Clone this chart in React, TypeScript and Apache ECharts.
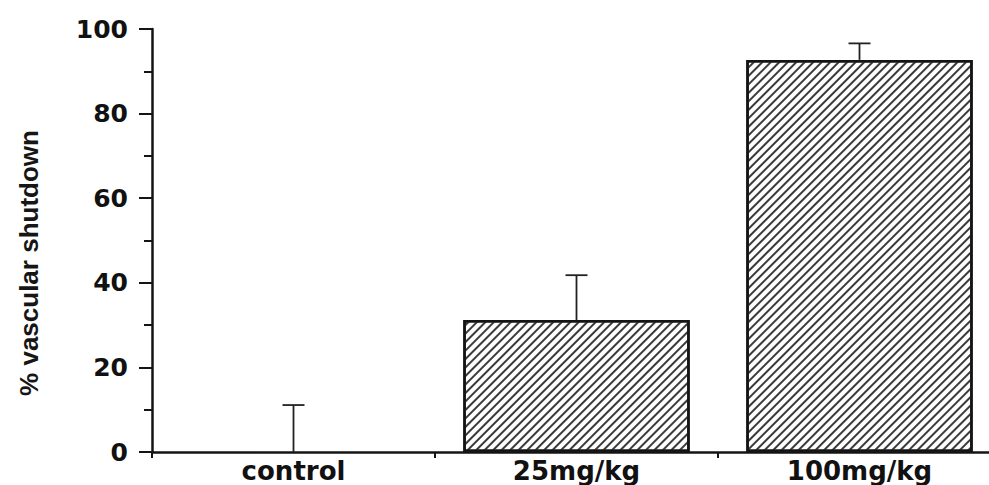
import React, { useEffect, useRef } from "react";
import * as echarts from "echarts";

const categories = ["control", "25mg/kg", "100mg/kg"];
const means = [0, 31.2, 92.7];
const upperErr = [11.1, 41.8, 96.6];
const yTicks = [0, 20, 40, 60, 80, 100];
const yTitle = "% vascular shutdown";

export default function App() {
  const ref = useRef<HTMLDivElement>(null);
  useEffect(() => {
    document.body.style.margin = "0";
    const chart = echarts.init(ref.current!, null, { renderer: "svg" });
    const ink = "#141414";
    const errData = categories.map((_, i) => [i, means[i], upperErr[i]]);
    const barData = means.map((v) =>
      v === 0 ? { value: v, itemStyle: { borderWidth: 0 } } : v
    );
    chart.setOption({
      animation: false,
      backgroundColor: "#ffffff",
      grid: { left: 152, right: 0, top: 29, bottom: 33, containLabel: false },
      xAxis: {
        type: "category",
        data: categories,
        axisLine: { lineStyle: { color: ink, width: 2.5 } },
        axisTick: { show: true, length: 6, lineStyle: { color: ink, width: 2 } },
        axisLabel: {
          color: "#111",
          fontFamily: "DejaVu Sans",
          fontWeight: "bold",
          fontSize: 26,
          margin: 6,
        },
        splitLine: { show: false },
      },
      yAxis: {
        type: "value",
        min: yTicks[0],
        max: yTicks[yTicks.length - 1],
        interval: 20,
        axisLine: { show: true, lineStyle: { color: ink, width: 2.5 } },
        axisTick: { show: true, length: 13, lineStyle: { color: ink, width: 2 } },
        minorTick: { show: true, splitNumber: 2, length: 8, lineStyle: { color: ink, width: 2 } },
        axisLabel: {
          color: "#111",
          fontFamily: "DejaVu Sans",
          fontWeight: "bold",
          fontSize: 25,
          margin: 24,
        },
        splitLine: { show: false },
        minorSplitLine: { show: false },
      },
      graphic: [
        {
          type: "text",
          x: 29,
          y: 263,
          rotation: Math.PI / 2,
          style: {
            text: yTitle,
            font: "bold 26px 'Liberation Sans', Arial, sans-serif",
            fill: "#161616",
            align: "center",
            verticalAlign: "middle",
          },
        },
      ],
      series: [
        {
          type: "bar",
          data: barData,
          barWidth: "80%",
          itemStyle: {
            color: "#ffffff",
            borderColor: ink,
            borderWidth: 2.5,
            decal: {
              symbol: "rect",
              symbolSize: 1,
              color: "#3a3a3a",
              dashArrayX: [1, 0],
              dashArrayY: [1.2, 3.3],
              rotation: -Math.PI / 4,
            },
          },
        },
        {
          type: "custom",
          data: errData,
          encode: { x: 0, y: [1, 2] },
          z: 5,
          renderItem: (params: any, api: any) => {
            const base = api.coord([api.value(0), api.value(1)]);
            const top = api.coord([api.value(0), api.value(2)]);
            const half = 11;
            const style = { stroke: "#222", lineWidth: 1.8 };
            return {
              type: "group",
              children: [
                { type: "line", shape: { x1: base[0], y1: base[1], x2: top[0], y2: top[1] }, style },
                { type: "line", shape: { x1: top[0] - half, y1: top[1], x2: top[0] + half, y2: top[1] }, style },
              ],
            };
          },
        },
      ],
    });
    return () => chart.dispose();
  }, []);
  return (
    <div style={{ position: "fixed", left: 0, top: 0, width: 989, height: 485, overflow: "hidden" }}>
      <div ref={ref} style={{ width: 1001, height: 485 }} />
    </div>
  );
}
